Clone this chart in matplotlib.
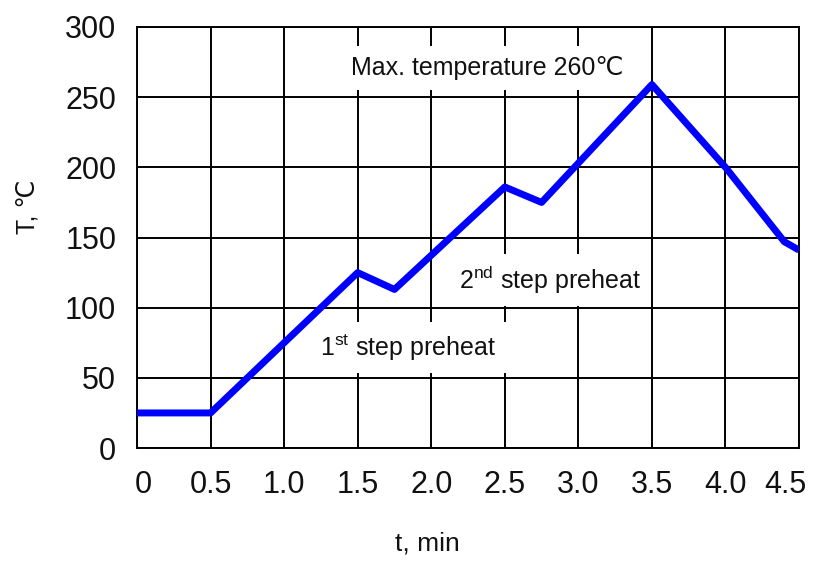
import matplotlib
matplotlib.use("Agg")
import matplotlib.pyplot as plt
import matplotlib.transforms as mtransforms

# reflow profile
t_min = [0, 0.5, 1.5, 1.75, 2.5, 2.75, 3.5, 4.0, 4.4, 4.5]
temp_c = [25, 25, 125, 113, 186, 175, 259, 200, 147, 141]

x_ticks = [0, 0.5, 1.0, 1.5, 2.0, 2.5, 3.0, 3.5, 4.0, 4.5]
x_tick_labels = ["0", "0.5", "1.0", "1.5", "2.0", "2.5", "3.0", "3.5", "4.0", "4.5"]
y_ticks = [0, 50, 100, 150, 200, 250, 300]

plt.rcParams['font.family'] = ['Liberation Sans', 'DejaVu Sans']
plt.rcParams['mathtext.fontset'] = 'custom'
plt.rcParams['mathtext.rm'] = 'Liberation Sans'

fig = plt.figure(figsize=(8.17, 5.62), dpi=100)
ax = fig.add_axes([0.1677, 0.2028, 0.8103, 0.7492])

ax.plot(t_min, temp_c, color='#0000ff', linewidth=5,
        solid_joinstyle='round', solid_capstyle='butt', zorder=4)

ax.set_xlim(0, 4.5)
ax.set_ylim(0, 300)
ax.set_xticks(x_ticks)
ax.set_xticklabels(x_tick_labels)
ax.set_yticks(y_ticks)
ax.tick_params(length=0, labelsize=22, colors='#111111')
ax.tick_params(axis='x', pad=16)
ax.tick_params(axis='y', pad=15)

ax.set_axisbelow(True)
ax.grid(True, color='black', linewidth=1.4)
for s in ax.spines.values():
    s.set_linewidth(1.4)
    s.set_color('black')

# last x label would run off the figure, nudge it left
lbls = ax.get_xticklabels()
lbls[-1].set_transform(lbls[-1].get_transform() +
                       mtransforms.ScaledTranslation(-14 / 100, 0, fig.dpi_scale_trans))
lbls[0].set_transform(lbls[0].get_transform() +
                      mtransforms.ScaledTranslation(6 / 100, 0, fig.dpi_scale_trans))

box = dict(boxstyle='square,pad=0.4', facecolor='white', edgecolor='none')
ax.text(2.38, 270.5, "Max. temperature 260℃", fontsize=18, ha='center', va='center',
        color='#111111', bbox=box, zorder=3)
ax.text(2.81, 119.5, r"2$^{\mathrm{nd}}$ step preheat", fontsize=18, ha='center', va='center',
        color='#111111', bbox=box, zorder=3)
ax.text(1.84, 71.5, r"1$^{\mathrm{st}}$ step preheat", fontsize=18, ha='center', va='center',
        color='#111111', bbox=box, zorder=3)

fig.text(28 / 817, 1 - 207 / 562, "T, ℃", rotation=90, fontsize=18, ha='center', va='center',
         color='#111111')
fig.text(427 / 817, 1 - 544 / 562, "t, min", fontsize=19, ha='center', va='center',
         color='#111111')

fig.savefig("out.png", dpi=100)
